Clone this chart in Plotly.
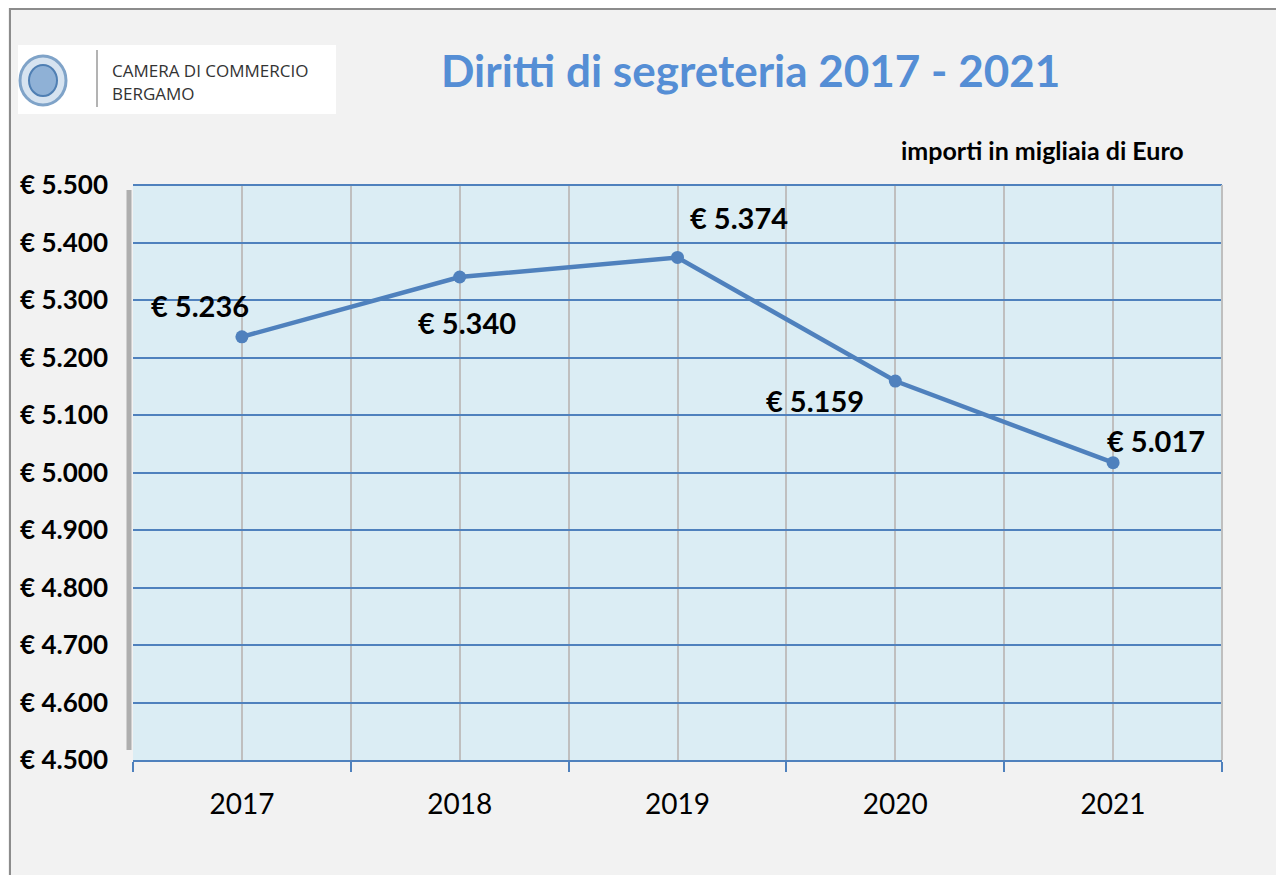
import plotly.graph_objects as go

years = [2017, 2018, 2019, 2020, 2021]
values = [5236, 5340, 5374, 5159, 5017]
label_texts = ["€ 5.236", "€ 5.340", "€ 5.374", "€ 5.159", "€ 5.017"]
label_xshift = [-42, 7, 61, -80, 43]
label_yshift = [31, -45, 40, -19, 22]
y_ticks = [4500, 4600, 4700, 4800, 4900, 5000, 5100, 5200, 5300, 5400, 5500]
y_tick_labels = ["€ 4.500", "€ 4.600", "€ 4.700", "€ 4.800", "€ 4.900", "€ 5.000",
                 "€ 5.100", "€ 5.200", "€ 5.300", "€ 5.400", "€ 5.500"]

# page body has an 8px margin: figure is placed at (8, 8) in the window
OX, OY = 8, 8
W, H = 1284 - OX, 875 - OY
L, R, T, B = 133 - OX, 62, 185 - OY, 115
PW, PH = W - L - R, H - T - B


def px(x):
    return (x - OX - L) / PW


def py(y):
    return (H - B - (y - OY)) / PH


fig = go.Figure()
fig.add_trace(go.Scatter(
    x=years, y=values, mode="lines+markers",
    line=dict(color="#4f81bd", width=4.5),
    marker=dict(color="#4f81bd", size=13),
    hoverinfo="skip", showlegend=False,
))

annotations = []
for x, y, t, xs, ys in zip(years, values, label_texts, label_xshift, label_yshift):
    annotations.append(dict(x=x, y=y, text=f"<b>{t}</b>", showarrow=False, xshift=xs, yshift=ys,
                            font=dict(family="Lato", size=29, color="#000000"),
                            xanchor="center", yanchor="middle"))

annotations += [
    dict(xref="paper", yref="paper", x=px(750), y=py(70), text="<b>Diritti di segreteria 2017 - 2021</b>",
         showarrow=False, xanchor="center", yanchor="middle",
         font=dict(family="Lato", size=44, color="#558ed5")),
    dict(xref="paper", yref="paper", x=px(1186), y=py(150), text="<b>importi in migliaia di Euro</b>",
         showarrow=False, xanchor="right", yanchor="middle",
         font=dict(family="Lato", size=25, color="#000000")),
    dict(xref="paper", yref="paper", x=px(110), y=py(71), text="CAMERA DI COMMERCIO",
         showarrow=False, xanchor="left", yanchor="middle",
         font=dict(family="Open Sans", size=17, color="#333333")),
    dict(xref="paper", yref="paper", x=px(110), y=py(94), text="BERGAMO",
         showarrow=False, xanchor="left", yanchor="middle",
         font=dict(family="Open Sans", size=17, color="#333333")),
]

shapes = [
    # outer frame
    dict(type="rect", xref="paper", yref="paper", x0=px(10), x1=px(1300), y0=py(9), y1=py(900),
         line=dict(color="#8c8c8c", width=2), fillcolor="rgba(0,0,0,0)", layer="below"),
    # logo box
    dict(type="rect", xref="paper", yref="paper", x0=px(18), x1=px(336), y0=py(45), y1=py(114),
         line=dict(width=0), fillcolor="#ffffff", layer="below"),
    dict(type="circle", xref="paper", yref="paper", x0=px(20), x1=px(66), y0=py(56), y1=py(105),
         line=dict(color="#7fa3c8", width=3), fillcolor="#d6e3f0", layer="above"),
    dict(type="circle", xref="paper", yref="paper", x0=px(29), x1=px(57), y0=py(65), y1=py(96),
         line=dict(color="#4f7fb3", width=2), fillcolor="#8fb1d6", layer="above"),
    dict(type="line", xref="paper", yref="paper", x0=px(97), x1=px(97), y0=py(50), y1=py(107),
         line=dict(color="#9a9a9a", width=1.5)),
    # plot area shadow left
    dict(type="line", xref="paper", yref="paper", x0=px(129), x1=px(129), y0=py(190), y1=py(750),
         line=dict(color="rgba(90,90,90,0.45)", width=5), layer="below"),
    # top border
    dict(type="line", xref="paper", yref="paper", x0=0, x1=1, y0=1, y1=1,
         line=dict(color="#4f81bd", width=2)),
    # right border
    dict(type="line", xref="paper", yref="paper", x0=1, x1=1, y0=0, y1=1,
         line=dict(color="#bfbfbf", width=2)),
]

fig.update_layout(
    width=W, height=H,
    margin=dict(l=L, r=R, t=T, b=B, autoexpand=False),
    paper_bgcolor="#f2f2f2",
    plot_bgcolor="#dbedf4",
    annotations=annotations,
    shapes=shapes,
    xaxis=dict(
        range=[2016.5, 2021.5],
        tickvals=years, ticktext=[str(y) for y in years],
        ticks="", showgrid=True, gridcolor="#bfbfbf", gridwidth=1.5,
        minor=dict(tick0=2016.5, dtick=1, showgrid=True, gridcolor="#bfbfbf", gridwidth=1.5,
                   ticks="outside", ticklen=10, tickcolor="#4f81bd", tickwidth=1.5),
        showline=True, linecolor="#4f81bd", linewidth=2,
        tickfont=dict(family="Lato", size=28, color="#000000"),
        ticklabelstandoff=18,
        zeroline=False, fixedrange=True,
    ),
    yaxis=dict(
        range=[4500, 5500],
        tickvals=y_ticks, ticktext=[f"<b>{t}</b>" for t in y_tick_labels],
        ticks="", showgrid=True, gridcolor="#4f81bd", gridwidth=1.5,
        showline=False,
        tickfont=dict(family="Lato", size=26, color="#000000"),
        ticklabelstandoff=24,
        zeroline=False, fixedrange=True,
    ),
)

fig.write_html("out.html")
